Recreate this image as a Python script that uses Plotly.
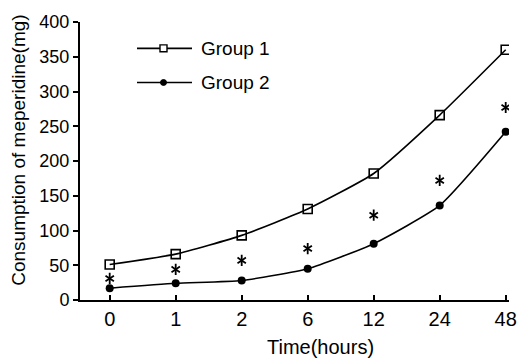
import plotly.graph_objects as go

time_labels = ["0", "1", "2", "6", "12", "24", "48"]
group1 = [51, 66, 93, 131, 182, 266, 360]
group2 = [17, 24, 28, 45, 81, 136, 242]
signif_y = [31, 44, 57, 74, 122, 172, 277]

W, H = 530, 360
L, R, T, B = 80, 21, 15, 60
pw, ph = W - L - R, H - T - B

def px(x):
    return (x - L) / pw

def py(y):
    return (H - B - y) / ph

font = "Liberation Sans, Arial, sans-serif"

fig = go.Figure()
fig.add_trace(go.Scatter(
    x=time_labels, y=group1, mode="lines+markers", name="Group 1",
    line=dict(color="black", width=1.6, shape="spline", smoothing=0.5),
    marker=dict(symbol="square-open", size=9, color="black", line=dict(width=1.6)),
    showlegend=False))
fig.add_trace(go.Scatter(
    x=time_labels, y=group2, mode="lines+markers", name="Group 2",
    line=dict(color="black", width=1.6, shape="spline", smoothing=0.5),
    marker=dict(symbol="circle", size=8, color="black"),
    showlegend=False))
for sym in ["y-up-open", "y-down-open"]:
    fig.add_trace(go.Scatter(
        x=time_labels, y=signif_y, mode="markers", name="p<0.05",
        marker=dict(symbol=sym, size=7, color="black", line=dict(width=1.8, color="black")),
        showlegend=False))

# custom legend
for yy, name in [(42, "Group 1"), (77, "Group 2")]:
    fig.add_shape(type="line", xref="paper", yref="paper",
                  x0=px(137), x1=px(192), y0=py(yy), y1=py(yy),
                  line=dict(color="black", width=1.6))
    fig.add_annotation(xref="paper", yref="paper", x=px(199), y=py(yy),
                       text=name, showarrow=False, xanchor="left", yanchor="middle",
                       font=dict(family=font, size=19, color="black"))
fig.add_shape(type="rect", xref="paper", yref="paper",
              x0=px(160), x1=px(167), y0=py(38.5), y1=py(45.5),
              line=dict(color="black", width=1.4), fillcolor="white")
fig.add_shape(type="circle", xref="paper", yref="paper",
              x0=px(160.5), x1=px(166.5), y0=py(74), y1=py(80),
              line=dict(color="black", width=1), fillcolor="black")

fig.add_annotation(xref="paper", yref="paper", x=px(320), y=py(348),
                   text="Time(hours)", showarrow=False, xanchor="center", yanchor="middle",
                   font=dict(family=font, size=20, color="black"))
fig.add_annotation(xref="paper", yref="paper", x=px(19), y=py(147),
                   text="Consumption of meperidine(mg)", showarrow=False, textangle=-90,
                   xanchor="center", yanchor="middle",
                   font=dict(family=font, size=19, color="black"))

fig.update_layout(
    width=W, height=H, margin=dict(l=L, r=R, t=T, b=B),
    paper_bgcolor="white", plot_bgcolor="white",
    font=dict(family=font, size=17, color="black"),
    xaxis=dict(type="category", range=[-0.45, 6.05], showline=True, linecolor="black",
               linewidth=2, ticks="inside", ticklen=5, tickwidth=1.5, tickcolor="black",
               showgrid=False, zeroline=False, tickfont=dict(size=20)),
    yaxis=dict(range=[0, 400], tickvals=[0, 50, 100, 150, 200, 250, 300, 350, 400],
               showline=True, linecolor="black", linewidth=2, ticks="outside", ticklen=5,
               tickwidth=1.5, tickcolor="black", showgrid=False, zeroline=False,
               tickfont=dict(size=18)),
)

fig.write_html("out.html")
